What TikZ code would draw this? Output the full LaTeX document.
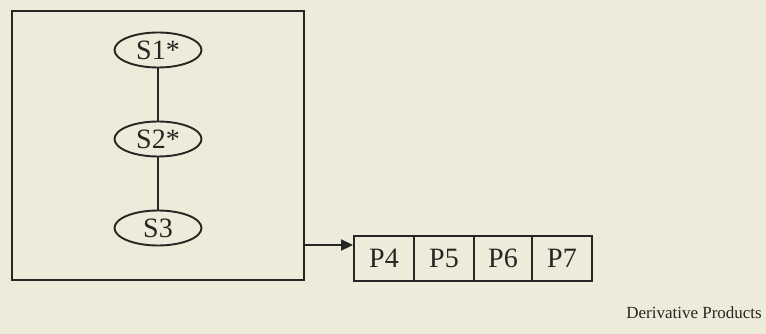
\documentclass[tikz,border=0pt]{standalone}
\usepackage{fontspec}
\setmainfont{Liberation Serif}
\usetikzlibrary{shapes.geometric,arrows.meta}
\definecolor{paper}{RGB}{237,235,217}
\definecolor{ink}{RGB}{38,38,34}
\tikzset{
  frame/.style={draw=ink, line width=2pt},
  stage/.style={ellipse, draw=ink, line width=1.9pt, inner sep=0pt,
    minimum width=87pt, minimum height=35pt, text=ink,
    font=\fontsize{28}{30}\selectfont},
  cell/.style={rectangle, draw=ink, line width=1.9pt, inner sep=0pt,
    minimum height=45pt, text=ink, font=\fontsize{28}{30}\selectfont},
  link/.style={draw=ink, line width=1.9pt},
  feed/.style={draw=ink, line width=2pt, -{Triangle[length=12pt,width=11pt]}},
  caption/.style={text=ink, inner sep=0pt, font=\fontsize{17}{20}\selectfont}
}
\begin{document}
\begin{tikzpicture}[x=1pt,y=-1pt]
  % page
  \fill[paper] (0,0) rectangle (766,334);
  \useasboundingbox (0,0) rectangle (766,334);

  % enclosing frame of the source chain
  \node[frame, minimum width=292pt, minimum height=269pt, inner sep=0pt] (outer) at (158,145.5) {};

  % source stages
  \node[stage] (s1) at (158,50) {S1*};
  \node[stage] (s2) at (158,139) {S2*};
  \node[stage] (s3) at (158,228) {S3};
  \draw[link] (s1) -- (s2);
  \draw[link] (s2) -- (s3);

  % product cells
  \node[cell, minimum width=60pt] (p4) at (384,258.5) {P4};
  \node[cell, minimum width=60pt] (p5) at (444,258.5) {P5};
  \node[cell, minimum width=58pt] (p6) at (503,258.5) {P6};
  \node[cell, minimum width=60pt] (p7) at (562,258.5) {P7};

  % feed from the frame into the products
  \coordinate (ay) at (0,245);
  \draw[feed] (outer.east |- ay) -- (p4.west |- ay);

  % caption
  \node[caption, anchor=base east] (cap) at (762,318) {Derivative Products};
\end{tikzpicture}
\end{document}
